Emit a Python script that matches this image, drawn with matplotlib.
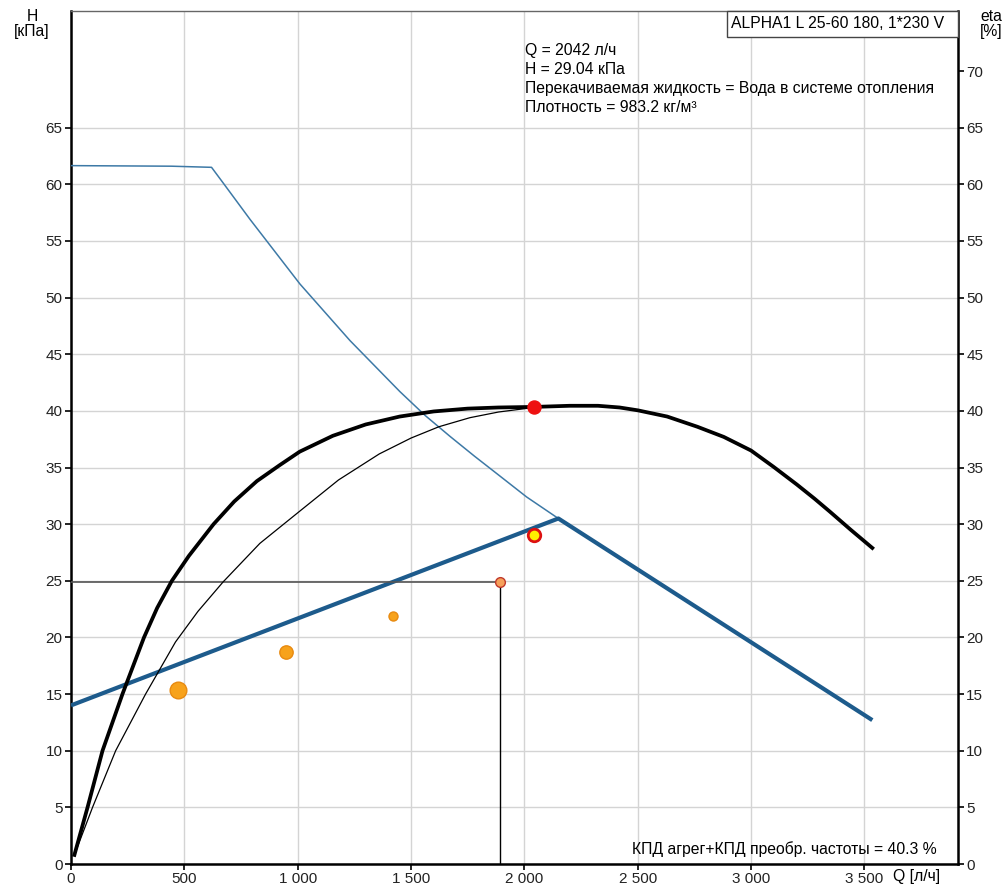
import numpy as np
import matplotlib.pyplot as plt
from matplotlib.patches import Rectangle

plt.rcParams['font.family'] = ['Liberation Sans', 'DejaVu Sans']

# pump curve H(Q), thin blue
q_pump = [0, 443, 620, 672, 790, 1010, 1231, 1451, 1562, 1672, 1780, 1892, 2010, 2150]
h_pump = [61.65, 61.6, 61.5, 60.1, 56.9, 51.2, 46.2, 41.7, 39.6, 37.75, 36.0, 34.25, 32.4, 30.5]

# proportional pressure control line, thick blue
q_ctrl = [0, 2150, 3535]
h_ctrl = [14.0, 30.5, 12.7]

# efficiency curve, thick black
q_eta = [15, 73, 139, 227, 322, 380, 445, 520, 629, 720, 820, 920, 1009, 1155, 1300,
         1450, 1600, 1750, 1886, 2042, 2200, 2325, 2420, 2500, 2630, 2763, 2880, 3000,
         3100, 3202, 3280, 3348, 3440, 3535]
eta = [0.8, 5, 10, 15, 20, 22.6, 25, 27.2, 30, 32.0, 33.8, 35.2, 36.4, 37.8, 38.8,
       39.5, 39.95, 40.2, 40.3, 40.35, 40.45, 40.45, 40.3, 40.05, 39.5, 38.6, 37.7, 36.5,
       35.05, 33.5, 32.25, 31.1, 29.5, 27.9]

# efficiency at reduced speed, thin black
q_eta2 = [15, 95, 197, 329, 461, 560, 671, 833, 1000, 1180, 1360, 1500, 1623, 1760,
          1886, 2042]
eta2 = [0.8, 5, 10, 15, 19.6, 22.3, 24.9, 28.3, 31.0, 33.9, 36.2, 37.6, 38.6, 39.4,
        39.9, 40.3]

# load profile points
q_load = [472, 948, 1420, 1892]
h_load = [15.4, 18.7, 21.9, 24.9]
size_load = [12, 9.6, 6.5, 7]

q_duty, h_duty, eta_duty = 2042, 29.04, 40.3

x_ticks = [0, 500, 1000, 1500, 2000, 2500, 3000, 3500]
x_labels = ['0', '500', '1 000', '1 500', '2 000', '2 500', '3 000', '3 500']

fig = plt.figure(figsize=(10.04, 8.85), dpi=100)
ax = fig.add_axes([71 / 1004, 1 - 864 / 885, (958 - 71) / 1004, (864 - 11) / 885])
ax.set_xlim(0, 3913)
ax.set_ylim(0, 75.3)

ax.set_xticks(x_ticks)
ax.set_xticklabels(x_labels)
ax.set_yticks(np.arange(0, 66, 5))
ax.grid(True, color='#d4d4d4', lw=1)
ax.tick_params(labelsize=11, length=4, width=1.2, color='black', pad=2, labelcolor='#222222')
for s in ['left', 'bottom', 'right']:
    ax.spines[s].set_linewidth(1.8)
ax.spines['top'].set_color('#666666')
ax.spines['top'].set_linewidth(1)

ax2 = ax.twinx()
ax2.set_ylim(0, 75.3)
ax2.set_yticks(np.arange(0, 71, 5))
ax2.tick_params(labelsize=11, length=4, width=1.2, pad=2, labelcolor='#222222')
for s in ax2.spines.values():
    s.set_visible(False)

ax.plot(q_pump, h_pump, color='#3d79a6', lw=1.1, zorder=3, solid_joinstyle='round')
ax.plot(q_ctrl, h_ctrl, color='#1d5b8c', lw=3, solid_capstyle='butt', zorder=3)
ax.plot(q_eta, eta, color='black', lw=2.7, zorder=4, solid_joinstyle='round')
ax.plot(q_eta2, eta2, color='black', lw=0.9, zorder=4, solid_joinstyle='round')

# operating point guide lines
ax.plot([0, q_load[-1]], [h_load[-1], h_load[-1]], color='#555555', lw=1.2, zorder=3)
ax.plot([q_load[-1], q_load[-1]], [0, h_load[-1]], color='black', lw=1, zorder=3)

for q, h, s in zip(q_load[:3], h_load[:3], size_load[:3]):
    ax.plot(q, h, 'o', ms=s, color='#f7a21b', mec='#e88a10', mew=1, zorder=5)
ax.plot(q_load[3], h_load[3], 'o', ms=size_load[3], color='#f5a05a', mec='#c0392b', mew=1, zorder=5)
ax.plot(q_duty, eta_duty, 'o', ms=9.4, color='#ee1111', mec='#ee1111', zorder=6)
ax.plot(q_duty, h_duty, 'o', ms=9, color='#ffee00', mec='#dd1111', mew=2, zorder=6)

# title box
ax.add_patch(Rectangle((1 - (958 - 727) / 887, 1 - 26 / 853), (958 - 727) / 887, 26 / 853,
                       transform=ax.transAxes, fc='white', ec='#444444', lw=1, zorder=7,
                       clip_on=False))
fig.text(731 / 1004, 1 - 24 / 885, 'ALPHA1 L 25-60 180, 1*230 V', fontsize=11.3,
         va='center', ha='left', zorder=8)

info = ['Q = 2042 л/ч', 'H = 29.04 кПа',
        'Перекачиваемая жидкость = Вода в системе отопления',
        'Плотность = 983.2 кг/м³']
for i, line in enumerate(info):
    fig.text(525 / 1004, 1 - (50 + 19 * i) / 885, line, fontsize=11.3, va='center', ha='left')

fig.text(937 / 1004, 1 - 849 / 885, 'КПД агрег+КПД преобр. частоты = 40.3 %',
         fontsize=11.3, va='center', ha='right')
fig.text(32 / 1004, 1 - 24 / 885, 'H\n[кПа]', fontsize=11.3, va='center', ha='center',
         linespacing=0.95)
fig.text(991 / 1004, 1 - 24 / 885, 'eta\n[%]', fontsize=11.3, va='center', ha='center',
         linespacing=0.95)
fig.text(893 / 1004, 1 - 876 / 885, 'Q [л/ч]', fontsize=11.3, va='center', ha='left')

fig.savefig('out.png', dpi=100)
